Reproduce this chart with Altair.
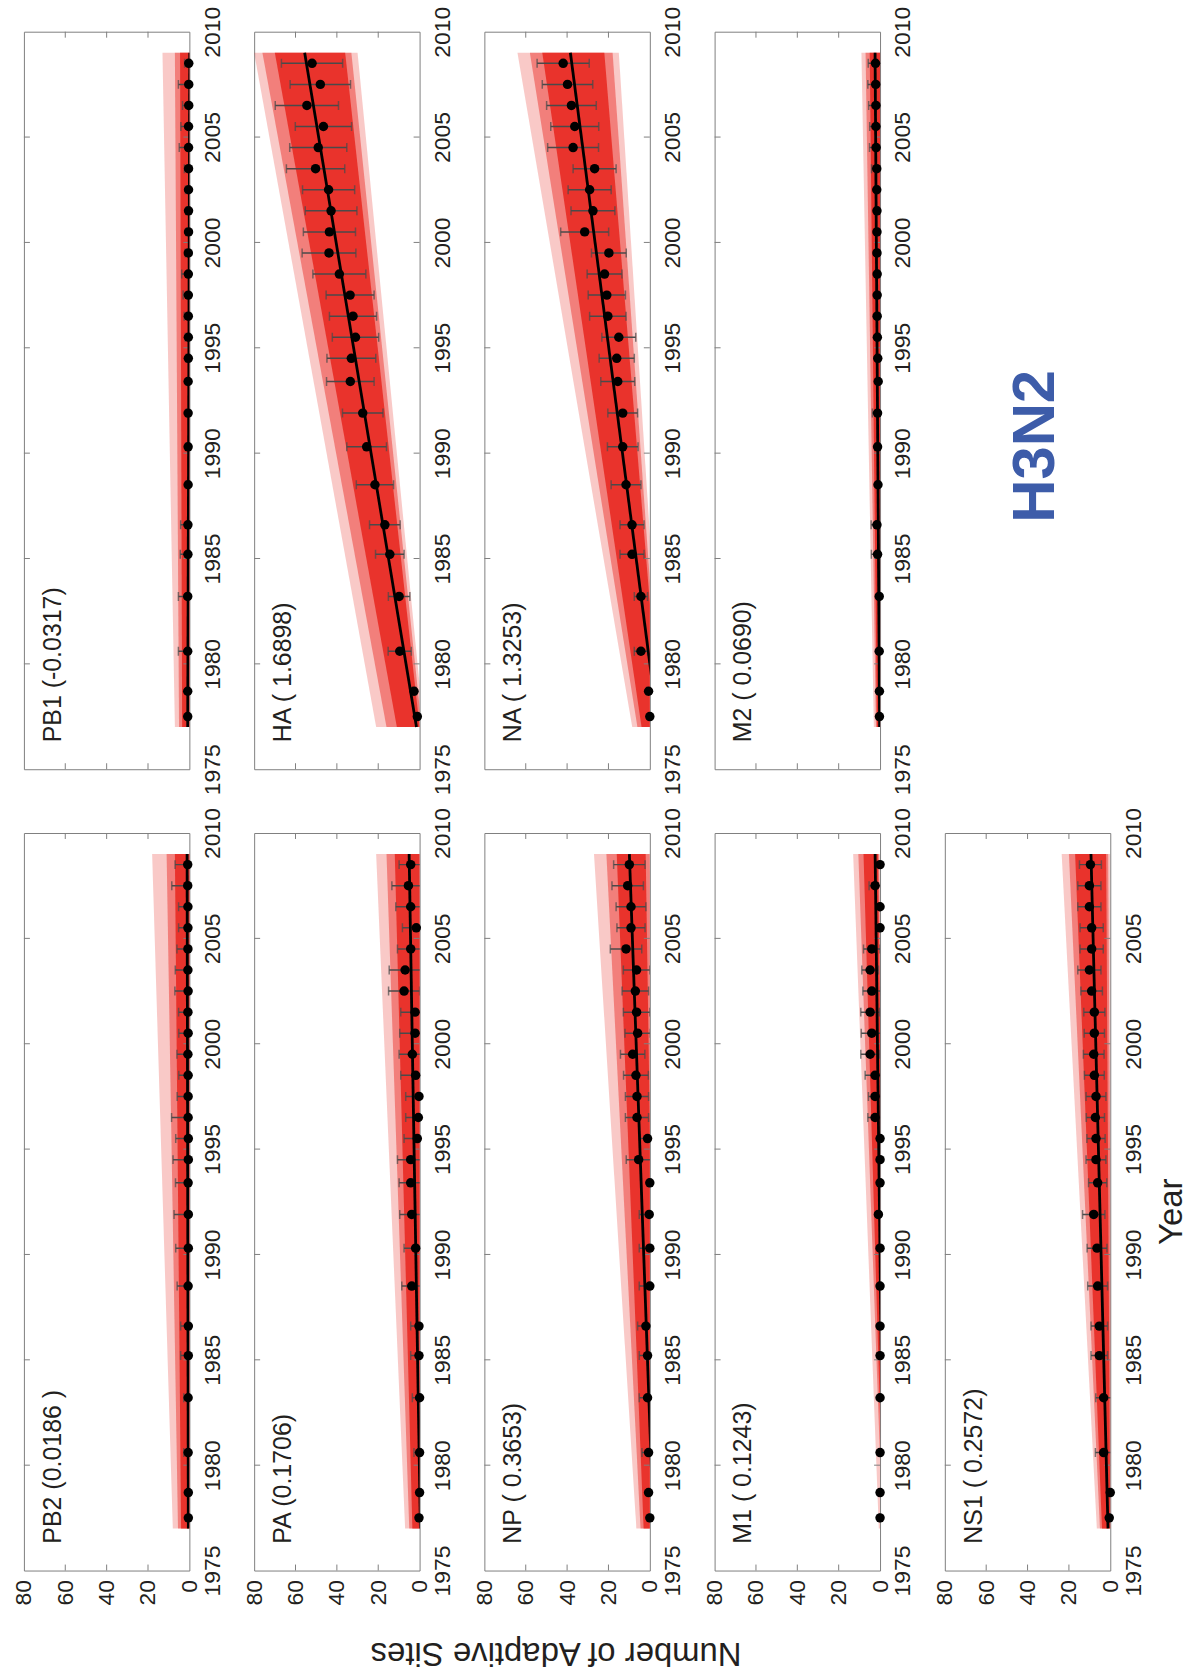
import altair as alt
import pandas as pd

# ---- panel geometry and styling -------------------------------------------
W, H = 166, 740
RED = "#e8261f"
INK = "#231f20"
FRAME = "#7f7f7f"
BAR = "#4a4a4a"
FONT = "Liberation Sans"

# ---- shared axes ---------------------------------------------------------
YEAR_TICKS = [1975, 1980, 1985, 1990, 1995, 2000, 2005, 2010]
VALUE_TICKS = [0, 20, 40, 60, 80]
INNER_VALUE_TICKS = [20, 40, 60]

# sampling times of the yearly estimates
YEARS = [1977.5, 1978.7, 1980.6, 1983.2, 1985.2, 1986.6, 1988.5, 1990.3, 1991.9,
         1993.4, 1994.5, 1995.5, 1996.5, 1997.5, 1998.5, 1999.5, 2000.5, 2001.5,
         2002.5, 2003.5, 2004.5, 2005.5, 2006.5, 2007.5, 2008.5]
FIT_START, FIT_END = 1977.0, 2009.0

# ---- per-segment estimates (mean and +/- error) ------------------------------
PB1_MEAN = [0.8, 0.8, 0.8, 0.8, 0.7, 0.7, 0.6, 0.6, 0.6, 0.6, 0.5, 0.5, 0.5, 0.5, 0.5,
            0.5, 0.4, 0.4, 0.4, 0.4, 0.4, 0.4, 0.3, 0.3, 0.3]
PB1_ERR = [0.3, 0.5, 4.5, 4.5, 3.7, 3.5, 1.2, 1.2, 1.0, 1.0, 1.2, 1.5, 2.0, 2.5, 3.2,
           1.5, 1.2, 1.2, 1.5, 2.0, 4.5, 3.7, 3.0, 5.0, 2.0]

HA_MEAN = [1.1, 2.7, 9.6, 9.9, 14.4, 16.8, 21.6, 25.6, 27.5, 33.5, 33.0, 31.0, 32.2,
           33.6, 38.8, 43.8, 43.6, 42.8, 44.0, 50.3, 49.0, 46.5, 54.5, 48.0, 52.0]
HA_ERR = [0.5, 1.0, 5.6, 5.2, 6.9, 7.4, 9.0, 9.6, 9.8, 11.5, 11.8, 11.2, 11.4, 11.6,
          12.8, 13.0, 12.6, 12.5, 12.6, 14.1, 13.8, 13.6, 15.3, 14.6, 14.8]

NA_MEAN = [0.0, 0.6, 4.3, 4.3, 8.6, 8.6, 11.5, 13.1, 13.1, 15.5, 16.0, 15.0, 20.3,
           20.8, 21.9, 19.8, 31.5, 27.5, 29.1, 26.7, 37.1, 36.3, 37.9, 39.8, 41.9]
NA_ERR = [0.5, 1.0, 3.2, 3.2, 5.8, 5.8, 7.2, 7.4, 7.2, 8.2, 8.5, 8.2, 8.8, 9.0, 8.4,
          8.4, 11.6, 10.6, 10.4, 10.4, 12.3, 11.6, 12.0, 12.2, 12.6]

M2_MEAN = [0.3, 0.3, 0.4, 0.4, 1.2, 1.5, 1.0, 1.2, 1.2, 0.9, 1.1, 1.3, 1.4, 1.4, 1.4,
           1.5, 1.5, 1.5, 1.6, 1.6, 1.9, 2.0, 2.0, 2.1, 2.2]
M2_ERR = [0.2, 0.3, 0.5, 0.5, 3.0, 2.8, 0.8, 0.8, 2.5, 0.8, 0.8, 0.8, 0.8, 0.8, 0.8,
          0.8, 0.8, 0.8, 0.9, 2.5, 3.2, 3.0, 3.5, 3.8, 3.5]

PB2_MEAN = [0.5, 0.5, 0.6, 0.6, 0.5, 0.5, 0.6, 0.5, 0.5, 0.6, 0.5, 0.5, 0.6, 0.6, 0.6,
            0.7, 0.6, 0.7, 0.6, 0.7, 0.7, 0.7, 0.7, 0.8, 0.8]
PB2_ERR = [0.3, 0.3, 2.1, 2.1, 3.7, 3.7, 5.3, 6.1, 6.9, 6.1, 7.4, 6.1, 8.0, 5.3, 4.5,
           5.3, 4.5, 4.5, 6.4, 6.1, 5.3, 4.5, 4.5, 7.7, 6.1]

PA_MEAN = [0.3, 0.0, 0.0, 0.0, 0.3, 0.3, 3.8, 1.9, 3.8, 4.3, 4.3, 1.1, 0.6, 0.3, 1.9,
           3.5, 2.2, 2.2, 7.5, 7.0, 4.3, 1.6, 4.3, 5.4, 4.3]
PA_ERR = [0.3, 0.3, 2.7, 3.5, 4.0, 4.0, 4.8, 5.6, 5.8, 5.6, 6.4, 6.4, 6.1, 6.4, 7.2,
          6.4, 7.4, 6.9, 7.5, 7.7, 6.4, 6.7, 7.2, 8.0, 5.6]

NP_MEAN = [0.0, 0.6, 0.6, 1.1, 1.1, 1.9, 0.0, 0.0, 0.3, 0.0, 5.4, 1.1, 6.2, 6.2, 6.7,
           8.3, 5.9, 6.4, 7.0, 6.4, 11.5, 9.1, 9.1, 10.7, 9.9]
NP_ERR = [0.3, 0.5, 3.2, 4.0, 4.0, 4.0, 5.1, 5.1, 4.8, 0.5, 6.0, 3.5, 5.6, 5.6, 6.0,
          5.9, 6.1, 6.4, 6.4, 6.4, 7.6, 6.8, 7.2, 7.6, 7.6]

M1_MEAN = [0.0, 0.0, 0.0, 0.0, 0.0, 0.0, 0.0, 0.0, 0.8, 0.0, 0.0, 0.0, 2.4, 2.4, 2.4,
           4.8, 4.0, 4.8, 4.0, 4.8, 4.0, 0.0, 0.0, 2.4, 0.0]
M1_ERR = [0.2, 0.2, 0.2, 0.2, 0.2, 0.2, 0.2, 0.2, 0.8, 0.2, 0.2, 0.2, 3.5, 3.2, 4.8,
          4.5, 5.1, 4.5, 4.3, 4.0, 4.0, 0.2, 0.2, 2.9, 0.2]

NS1_MEAN = [0.5, 0.0, 3.2, 3.2, 5.3, 5.3, 6.1, 6.4, 8.0, 6.1, 6.9, 6.9, 7.2, 6.9, 7.7,
            8.0, 7.7, 7.7, 9.0, 10.1, 9.0, 9.0, 10.1, 10.1, 9.6]
NS1_ERR = [0.3, 0.3, 4.0, 3.8, 4.0, 4.0, 4.8, 4.8, 5.4, 4.4, 4.8, 4.4, 4.4, 4.8, 4.8,
           5.0, 4.9, 5.1, 5.2, 5.6, 5.6, 5.6, 5.6, 5.6, 5.3]

# ---- regression slopes (sites per year) and fitted value at FIT_START -------
SLOPES = {"PB1": -0.0317, "HA": 1.6898, "NA": 1.3253, "M2": 0.0690, "PB2": 0.0186,
          "PA": 0.1706, "NP": 0.3653, "M1": 0.1243, "NS1": 0.2572}
INTERCEPTS = {"PB1": 0.8, "HA": 1.5, "NA": -4.0, "M2": 0.2, "PB2": 0.5,
              "PA": -0.4, "NP": -1.8, "M1": -1.6, "NS1": 1.1}

# ---- bootstrap fan envelopes: (low, high) at FIT_START, (low, high) at FIT_END
# ordered outer, middle, core
PB1_FAN = [(-2, 7, -2, 13), (-2, 5, -2, 7), (-2, 3.5, -2, 4.5)]
HA_FAN = [(-2, 21, 30, 80), (-1, 16, 33, 76), (0, 11, 36, 70)]
NA_FAN = [(-6, 8.5, 15, 64), (-5, 6, 18, 58), (-5, 4, 22, 52)]
M2_FAN = [(-1, 3, -1, 9), (-1, 2, -1, 7), (-1, 1.5, -1, 5)]
PB2_FAN = [(-2, 8, -2, 18), (-2, 5.5, -2, 11), (-2, 4, -2, 7)]
PA_FAN = [(-2, 7, -2, 21), (-2, 5, -1, 16), (-2, 3.5, 0, 12)]
NP_FAN = [(-3, 6.5, -2, 27), (-3, 4.5, 0, 21), (-3, 3, 2, 16)]
M1_FAN = [(-3, 0.6, 0, 13), (-3, -1.2, 0.5, 10.5), (-3, -1.6, 1, 8)]
NS1_FAN = [(-1, 6.5, 0, 23.5), (-1, 5, 1, 20), (0, 4, 2, 17)]
FAN_OPACITY = [0.25, 0.45, 0.85]

LABELS = {"PB1": "PB1 (-0.0317)", "HA": "HA ( 1.6898)", "NA": "NA ( 1.3253)",
          "M2": "M2 ( 0.0690)", "PB2": "PB2 (0.0186 )", "PA": "PA (0.1706)",
          "NP": "NP ( 0.3653)", "M1": "M1 ( 0.1243)", "NS1": "NS1 ( 0.2572)"}

SERIES = {
    "PB1": (PB1_MEAN, PB1_ERR, PB1_FAN), "HA": (HA_MEAN, HA_ERR, HA_FAN),
    "NA": (NA_MEAN, NA_ERR, NA_FAN), "M2": (M2_MEAN, M2_ERR, M2_FAN),
    "PB2": (PB2_MEAN, PB2_ERR, PB2_FAN), "PA": (PA_MEAN, PA_ERR, PA_FAN),
    "NP": (NP_MEAN, NP_ERR, NP_FAN), "M1": (M1_MEAN, M1_ERR, M1_FAN),
    "NS1": (NS1_MEAN, NS1_ERR, NS1_FAN),
}
TOP_ROW = ["PB1", "HA", "NA", "M2"]
BOTTOM_ROW = ["PB2", "PA", "NP", "M1", "NS1"]


def xenc(field, show_axis):
    axis = None
    if show_axis:
        axis = alt.Axis(values=VALUE_TICKS, orient="bottom", ticks=False, domain=False,
                        grid=False, labelAngle=270, labelAlign="right",
                        labelBaseline="middle", labelPadding=9, labelFlush=False,
                        labelOverlap=False, title=None)
    return alt.X(f"{field}:Q", axis=axis,
                 scale=alt.Scale(domain=[0, 80], reverse=True, nice=False, zero=False))


def yenc(field):
    axis = alt.Axis(values=YEAR_TICKS, orient="right", ticks=False, domain=False,
                    grid=False, format="d", labelAngle=270, labelAlign="center",
                    labelBaseline="top", labelPadding=12, labelFlush=False,
                    labelOverlap=False, title=None)
    return alt.Y(f"{field}:Q", axis=axis,
                 scale=alt.Scale(domain=[1975, 2010], nice=False, zero=False))


def panel(gene, bottom_row, extras=()):
    mean, err, fan = SERIES[gene]
    slope, b0 = SLOPES[gene], INTERCEPTS[gene]
    layers = []

    # bootstrap fan of fitted lines
    for (lo0, hi0, lo1, hi1), op in zip(fan, FAN_OPACITY):
        band = pd.DataFrame({"t": [FIT_START, FIT_END], "lo": [lo0, lo1], "hi": [hi0, hi1]})
        layers.append(
            alt.Chart(band).mark_area(orient="horizontal", color=RED, opacity=op, clip=True)
            .encode(y=yenc("t"), x=xenc("lo", bottom_row), x2="hi:Q")
        )

    # inward frame ticks
    yt = pd.DataFrame({"t": YEAR_TICKS[1:-1]})
    vt = pd.DataFrame({"v": INNER_VALUE_TICKS})
    tick_style = dict(color=FRAME, strokeWidth=1)
    layers += [
        alt.Chart(yt).mark_rule(**tick_style).encode(
            y=yenc("t"), x=alt.value(0), x2=alt.value(6)),
        alt.Chart(yt).mark_rule(**tick_style).encode(
            y=yenc("t"), x=alt.value(W - 6), x2=alt.value(W)),
        alt.Chart(vt).mark_rule(**tick_style).encode(
            x=xenc("v", bottom_row), y=alt.value(H - 6), y2=alt.value(H)),
        alt.Chart(vt).mark_rule(**tick_style).encode(
            x=xenc("v", bottom_row), y=alt.value(0), y2=alt.value(6)),
    ]

    # error bars with caps
    pts = pd.DataFrame({"t": YEARS, "v": mean,
                        "lo": [m - e for m, e in zip(mean, err)],
                        "hi": [m + e for m, e in zip(mean, err)]})
    caps = pd.DataFrame({"t": YEARS + YEARS, "c": list(pts["lo"]) + list(pts["hi"])})
    layers += [
        alt.Chart(pts).mark_rule(color=BAR, strokeWidth=1.5, clip=True).encode(
            y=yenc("t"), x=xenc("lo", bottom_row), x2="hi:Q"),
        alt.Chart(caps).mark_tick(orient="vertical", color=BAR, size=9,
                                  thickness=1.5, clip=True).encode(
            y=yenc("t"), x=xenc("c", bottom_row)),
    ]

    # regression line from the stated slope
    fit = pd.DataFrame({"t": [FIT_START, FIT_END],
                        "v": [b0, b0 + slope * (FIT_END - FIT_START)]})
    layers.append(
        alt.Chart(fit).mark_line(color="black", strokeWidth=2.8, clip=True).encode(
            y=yenc("t"), x=xenc("v", bottom_row))
    )

    # yearly means
    layers.append(
        alt.Chart(pts).mark_circle(color="black", opacity=1, size=90).encode(
            y=yenc("t"), x=xenc("v", bottom_row))
    )

    # segment name with slope
    lab = pd.DataFrame({"label": [LABELS[gene]]})
    layers.append(
        alt.Chart(lab).mark_text(angle=270, align="left", baseline="middle",
                                 font=FONT, fontSize=25, color=INK).encode(
            x=alt.value(29), y=alt.value(H - 27), text="label:N")
    )
    layers += list(extras)
    return alt.layer(*layers).properties(width=W, height=H)


def note(text, x, y, angle, size, color=INK, weight="normal"):
    df = pd.DataFrame({"txt": [text]})
    return alt.Chart(df).mark_text(angle=angle, align="center", baseline="middle",
                                   font=FONT, fontSize=size, fontWeight=weight,
                                   color=color).encode(
        x=alt.value(x), y=alt.value(y), text="txt:N")


extras = {
    "PA": [note("Number of Adaptive Sites", 303, 823, 180, 33)],
    "NS1": [note("Year", 228, 380, 270, 33)],
}

# empty cell at the end of the top row carrying the subtype name
subtype_cell = note("H3N2", 92, 416, 270, 60, color="#3d5ca9", weight="bold").properties(
    width=W, height=H, view=alt.ViewBackground(strokeOpacity=0))

cells = [panel(g, False, extras.get(g, ())) for g in TOP_ROW] + [subtype_cell]
cells += [panel(g, True, extras.get(g, ())) for g in BOTTOM_ROW]

chart = (
    alt.concat(*cells, columns=5, spacing=alt.RowColnumber(row=64, column=65),
               bounds="flush")
    .properties(padding={"left": 12, "top": 2, "right": 2, "bottom": 2},
                background="white")
    .configure_view(stroke=FRAME, strokeWidth=1)
    .configure_axis(labelFont=FONT, labelFontSize=23, labelColor=INK)
)

chart.save("out.html", embed_options={"renderer": "svg", "actions": False})
